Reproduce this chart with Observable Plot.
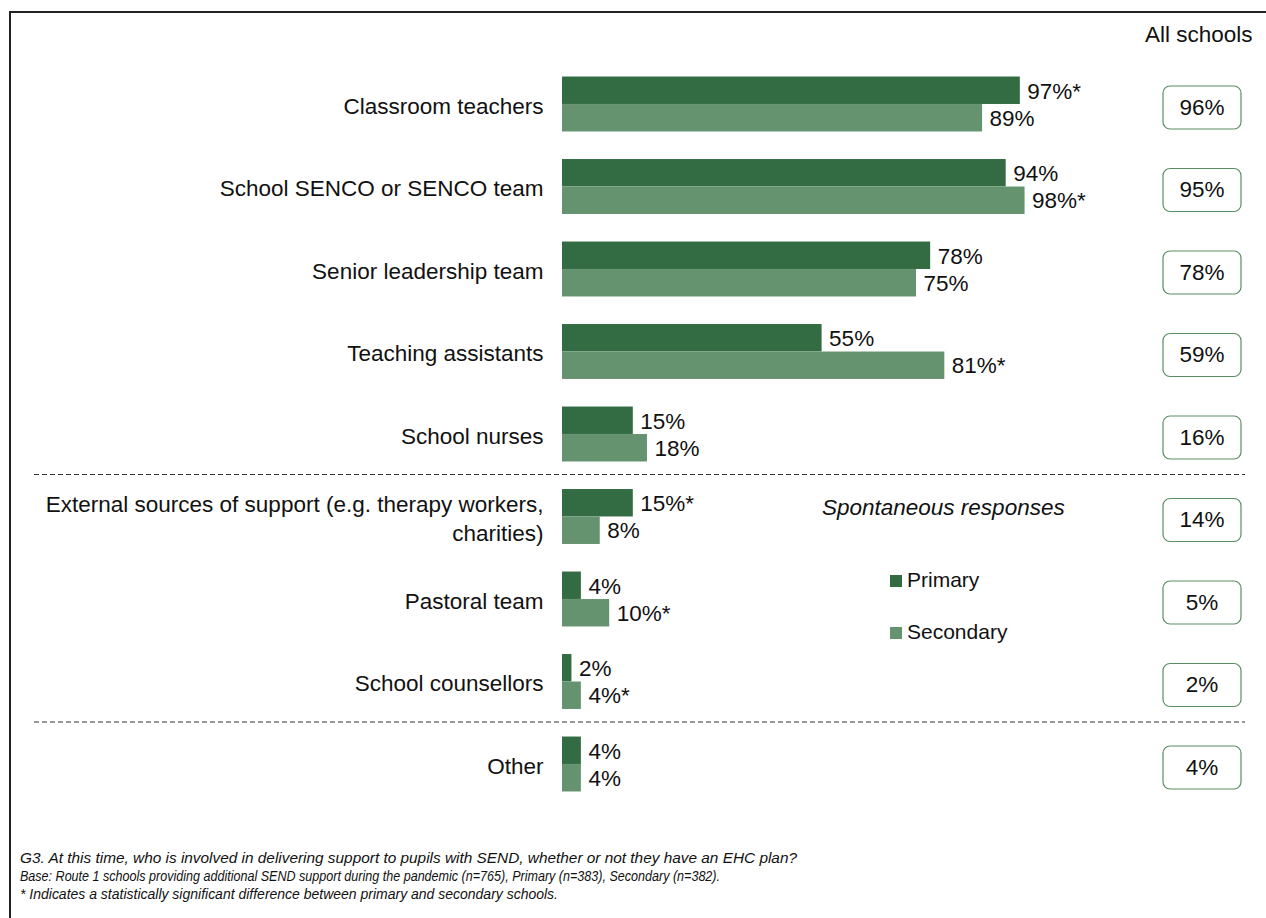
<!DOCTYPE html>
<html>
<head>
<meta charset="utf-8">
<script src="https://cdn.jsdelivr.net/npm/d3@7"></script>
<script src="https://cdn.jsdelivr.net/npm/@observablehq/plot@0.6"></script>
<style>
  html, body { margin: 0; padding: 0; background: #fff; }
  #wrap { position: relative; width: 1266px; height: 918px; overflow: hidden; font-family: "Liberation Sans", Arial, sans-serif; color: #111; }
  #frame { position: absolute; left: 9px; top: 11px; width: 1400px; height: 1000px; border-top: 2px solid #222; border-left: 2px solid #222; box-sizing: border-box; }
  #chart { position: absolute; left: 0; top: 0; }
  .abs { position: absolute; white-space: nowrap; }
  .note { font-style: italic; font-size: 14.5px; left: 20px; font-family: "Liberation Sans", Arial, sans-serif; line-height: 18px; transform-origin: 0 50%; }
  .sw { display: inline-block; width: 12px; height: 12px; margin-right: 5px; vertical-align: 0px; }
</style>
</head>
<body>
<div id="wrap">
  <div id="frame"></div>
  <div id="chart"></div>
</div>
<script>
const categories = [
  "Classroom teachers",
  "School SENCO or SENCO team",
  "Senior leadership team",
  "Teaching assistants",
  "School nurses",
  "External sources of support (e.g. therapy workers,\ncharities)",
  "Pastoral team",
  "School counsellors",
  "Other"
];
const primary   = [97, 94, 78, 55, 15, 15, 4, 2, 4];
const secondary = [89, 98, 75, 81, 18, 8, 10, 4, 4];
const primarySig   = [true, false, false, false, false, true, false, false, false];
const secondarySig = [false, true, false, true, false, false, true, true, false];
const allSchools = [96, 95, 78, 59, 16, 14, 5, 2, 4];
const dividersAfter = ["School nurses", "School counsellors"];
const seriesNames = ["Primary", "Secondary"];
const colors = {Primary: "#336c42", Secondary: "#66936f"};
const boxStroke = "#5b8e64";
const notes = [
  "G3. At this time, who is involved  in delivering support to pupils with SEND, whether or not they have an EHC plan?",
  "Base: Route 1 schools providing additional SEND support during the pandemic (n=765), Primary (n=383), Secondary (n=382).",
  "* Indicates a statistically significant difference between primary and secondary schools."
];
const noteWidths = [777, 700, 538];

const rows = categories.map((c, i) => ({
  category: c,
  primary: primary[i], secondary: secondary[i],
  pLabel: primary[i] + "%" + (primarySig[i] ? "*" : ""),
  sLabel: secondary[i] + "%" + (secondarySig[i] ? "*" : ""),
  all: allSchools[i] + "%"
}));

const FS = 22.5;
const half = 27.5;

const roundedBox = {
  draw(ctx) {
    const w = 39, h = 21.5, r = 7;
    ctx.moveTo(-w + r, -h);
    ctx.lineTo(w - r, -h);
    ctx.arcTo(w, -h, w, -h + r, r);
    ctx.lineTo(w, h - r);
    ctx.arcTo(w, h, w - r, h, r);
    ctx.lineTo(-w + r, h);
    ctx.arcTo(-w, h, -w, h - r, r);
    ctx.lineTo(-w, -h + r);
    ctx.arcTo(-w, -h, -w + r, -h, r);
    ctx.closePath();
  }
};

const chart = Plot.plot({
  width: 1266,
  height: 918,
  marginLeft: 562,
  marginRight: 232,
  marginTop: 0,
  marginBottom: 0,
  style: {fontFamily: "'Liberation Sans', Arial, sans-serif", fontSize: FS + "px", color: "#111", background: "transparent"},
  x: {domain: [0, 100], axis: null},
  y: {domain: categories, range: [62.75, 805.25], paddingInner: 0.334, paddingOuter: 0.167, round: false, axis: null},
  marks: [
    Plot.ruleY(rows.filter(d => dividersAfter.includes(d.category)), {
      y: "category", dy: 40, stroke: "#333", strokeWidth: 1.2, strokeDasharray: "5,3",
      insetLeft: -528, insetRight: -211
    }),
    Plot.barX(rows, {y: "category", x: "primary", fill: colors.Primary, insetBottom: half, insetTop: 0}),
    Plot.barX(rows, {y: "category", x: "secondary", fill: colors.Secondary, insetTop: half, insetBottom: 0}),
    Plot.text(rows, {y: "category", x: "primary", text: "pLabel", textAnchor: "start", dx: 7, dy: -13, fontSize: FS, fill: "#111"}),
    Plot.text(rows, {y: "category", x: "secondary", text: "sLabel", textAnchor: "start", dx: 7, dy: 14, fontSize: FS, fill: "#111"}),
    Plot.text(rows, {y: "category", x: () => 0, text: "category", textAnchor: "end", dx: -19, lineHeight: 1.28, fontSize: FS, fill: "#111"}),
    Plot.dot(rows, {y: "category", frameAnchor: "right", dx: 167.5, dy: 3, symbol: roundedBox, fill: "white", stroke: boxStroke, strokeWidth: 1.2}),
    Plot.text(rows, {y: "category", frameAnchor: "right", textAnchor: "middle", dx: 167.5, dy: 3, text: "all", fontSize: FS, fill: "#111"})
  ]
});
document.getElementById("chart").appendChild(chart);

const wrap = document.getElementById("wrap");
function addDiv(html, css, cls) {
  const d = document.createElement("div");
  d.className = "abs " + (cls || "");
  d.innerHTML = html;
  Object.assign(d.style, css);
  wrap.appendChild(d);
  return d;
}
addDiv("All schools", {left: "1145px", top: "22px", fontSize: FS + "px"});
addDiv("Spontaneous responses", {left: "822px", top: "495px", fontSize: FS + "px", fontStyle: "italic"});
seriesNames.forEach((s, i) => {
  addDiv(`<span class="sw" style="background:${colors[s]}"></span>${s}`,
    {left: "890px", top: (568 + i * 52) + "px", fontSize: "21px"});
});
notes.forEach((t, i) => {
  const d = addDiv(t, {top: (849 + i * 18) + "px"}, "note");
  const w = d.getBoundingClientRect().width;
  if (w > 0) d.style.transform = `scaleX(${noteWidths[i] / w})`;
});
</script>
</body>
</html>
